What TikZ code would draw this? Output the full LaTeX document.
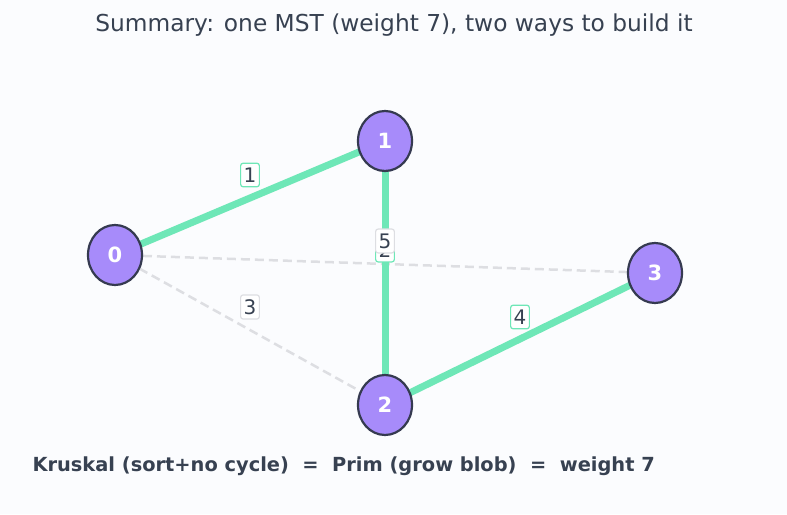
\documentclass[tikz,border=0pt]{standalone}
\usepackage{fontspec}
\setmainfont{DejaVu Sans}
\definecolor{bg}{HTML}{FBFCFE}
\definecolor{txt}{HTML}{374151}
\definecolor{mst}{HTML}{6EE7B7}
\definecolor{nomst}{HTML}{DDDEE2}
\definecolor{vfill}{HTML}{A78BFA}
\definecolor{vline}{HTML}{353A50}
\tikzset{
  vert/.style={ellipse, draw=vline, line width=2.2pt, fill=vfill, minimum width=54pt, minimum height=60pt, inner sep=0pt, text=white, font=\fontsize{21}{21}\selectfont\bfseries},
  mstedge/.style={draw=mst, line width=7pt},
  otheredge/.style={draw=nomst, line width=2.5pt, dash pattern=on 9pt off 5pt},
  wlab/.style={fill=white, rounded corners=2.5pt, line width=1.2pt, inner xsep=3pt, inner ysep=4.5pt, text=txt, font=\fontsize{20}{20}\selectfont},
  mstlab/.style={wlab, draw=mst},
  otherlab/.style={wlab, draw=nomst},
}
\usetikzlibrary{shapes.geometric}
\begin{document}
\begin{tikzpicture}[x=1pt,y=1pt]
\fill[bg] (0,0) rectangle (787,514);
\useasboundingbox (0,0) rectangle (787,514);
\node[text=txt, font=\fontsize{23.3}{23.3}\selectfont] (title) at (394,489) {Summary: one MST (weight 7), two ways to build it};
\coordinate (p0) at (115,259);
\coordinate (p1) at (385,373);
\coordinate (p2) at (385,109);
\coordinate (p3) at (655,241);
\draw[otheredge] (p0) -- (p3);
\draw[otheredge] (p0) -- (p2);
\draw[mstedge] (p0) -- (p1);
\draw[mstedge] (p1) -- (p2);
\draw[mstedge] (p2) -- (p3);
\node[vert] (n0) at (p0) {0};
\node[vert] (n1) at (p1) {1};
\node[vert] (n2) at (p2) {2};
\node[vert] (n3) at (p3) {3};
\node[mstlab] (l01) at (250,339) {1};
\node[otherlab] (l02) at (250,207) {3};
\node[mstlab] (l23) at (520,197) {4};
\node[mstlab] (l12) at (385,264) {2};
\node[otherlab] (l03) at (385,273) {5};
\node[anchor=west, text=txt, font=\fontsize{19.4}{19.4}\selectfont\bfseries] (foot) at (29,48) {Kruskal (sort+no cycle) \ = \ Prim (grow blob) \ = \ weight 7};
\end{tikzpicture}
\end{document}
